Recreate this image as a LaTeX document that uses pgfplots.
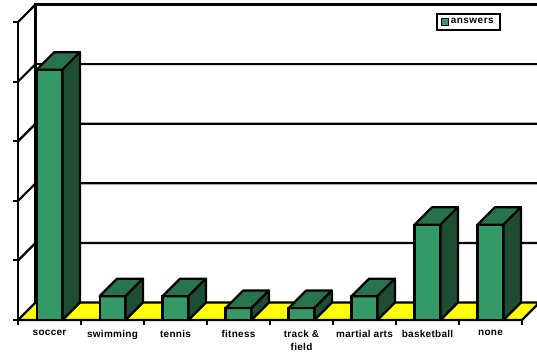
\documentclass[border=0pt]{standalone}
\usepackage{pgfplots}
\pgfplotsset{compat=1.18}
\usepackage{pgfplotstable}
\usepackage{fontspec}
\setmainfont{Liberation Sans}
\definecolor{gfront}{RGB}{51,153,102}
\definecolor{gtop}{RGB}{38,115,77}
\definecolor{gside}{RGB}{30,77,51}
\definecolor{floorY}{RGB}{255,255,0}
\pgfplotstableread{
x y
0 21
1 2
2 2
3 1
4 1
5 2
6 8
7 8
}\datatable
\begin{document}
\begin{tikzpicture}
\pgfplotsset{
  topface/.style={fill=gtop,draw=black,line width=2.2bp,line join=round,forget plot},
  sideface/.style={fill=gside,draw=black,line width=2.2bp,line join=round,forget plot},
  wall/.style={draw=black,line width=2.2bp,forget plot},
}
\begin{axis}[
  scale only axis, width=504bp, height=298bp,
  xmin=-0.5, xmax=7.5, ymin=0, ymax=25,
  clip=false, no markers,
  axis lines*=left,
  axis line style={line width=2.2bp},
  xtick={0,...,7},
  xticklabels={soccer,swimming,tennis,fitness,{track \&\\field},martial arts,basketball,none},
  xticklabel style={align=center, font=\bfseries\fontsize{10}{12.5}\selectfont\addfontfeature{LetterSpace=3}, yshift=-2bp},
  major x tick style={draw=none},
  minor xtick={-0.5,0.5,...,7.5},
  minor x tick style={line width=2bp,black},
  minor tick length=5bp,
  ytick={0,5,...,25},
  yticklabels={},
  y tick style={line width=2bp,black},
  major tick length=5bp,
  tick align=outside,
  legend style={at={(0.829,1.030)}, anchor=north west, draw=black, line width=2bp,
    font=\bfseries\fontsize{10}{11}\selectfont\addfontfeature{LetterSpace=5}, inner xsep=4bp, inner ysep=2.5bp,
    nodes={inner xsep=2bp}},
  legend image code/.code={\draw[fill=gfront,draw=black,line width=1bp] (0bp,-3.5bp) rectangle (7bp,3.5bp);},
]
% back wall and left wall
\addplot[wall] coordinates {(-0.222,1.47) (-0.222,26.47) (7.9,26.47)};
\addplot[wall] coordinates {(-0.5,25) (-0.222,26.47)};
\addplot[wall] coordinates {(-0.5,20) (-0.222,21.47) (7.9,21.47)};
\addplot[wall] coordinates {(-0.5,15) (-0.222,16.47) (7.9,16.47)};
\addplot[wall] coordinates {(-0.5,10) (-0.222,11.47) (7.9,11.47)};
\addplot[wall] coordinates {(-0.5,5) (-0.222,6.47) (7.9,6.47)};
% floor
\addplot[fill=floorY, draw=black, line width=2.2bp, forget plot] coordinates {(-0.5,0) (7.5,0) (7.778,1.47) (-0.222,1.47)} -- cycle;
% front faces
\addplot[ybar, bar width=0.41, fill=gfront, draw=black, line width=2.2bp] table[x=x,y=y]{\datatable};
\addlegendentry{answers}
% top and side faces
\pgfplotsinvokeforeach{0,...,7}{
  \pgfplotstablegetelem{#1}{y}\of\datatable
  \pgfmathsetmacro\v{\pgfplotsretval}
  \pgfmathsetmacro\xa{#1-0.205}
  \pgfmathsetmacro\xb{#1+0.205}
  \pgfmathsetmacro\xc{#1+0.205+0.278}
  \pgfmathsetmacro\xd{#1-0.205+0.278}
  \pgfmathsetmacro\yt{\v+1.47}
  \edef\tmp{\noexpand\addplot[topface] coordinates {(\xa,\v) (\xb,\v) (\xc,\yt) (\xd,\yt)} -- cycle;
    \noexpand\addplot[sideface] coordinates {(\xb,0) (\xc,1.47) (\xc,\yt) (\xb,\v)} -- cycle;}
  \tmp
}
\coordinate (bbl) at (axis cs:-0.786,-2.768);
\coordinate (btr) at (axis cs:7.738,26.85);
\end{axis}
\pgfresetboundingbox
\path[use as bounding box] (bbl) rectangle (btr);
\end{tikzpicture}
\end{document}
